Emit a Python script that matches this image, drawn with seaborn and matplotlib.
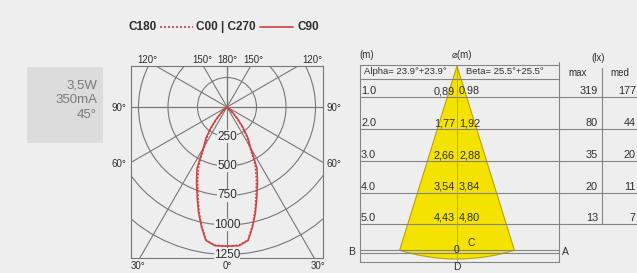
import numpy as np
import pandas as pd
import matplotlib
matplotlib.use("Agg")
import matplotlib.pyplot as plt
import seaborn as sns
from matplotlib.patches import Circle, Wedge, Rectangle

# ---------------- data ----------------
gamma_deg = [0, 5, 9, 12, 15, 18, 22, 26, 28, 30, 34, 38, 42, 46, 50, 60]
c0_c180_cd = [1180, 1175, 1140, 1030, 915, 795, 665, 545, 450, 375, 295, 200, 115, 50, 15, 0]
c90_c270_cd = [1180, 1180, 1145, 1040, 930, 815, 690, 580, 480, 400, 320, 220, 130, 60, 20, 0]
ring_values = [250, 500, 750, 1000, 1250]
spoke_angles = [30, 60, 90, 120, 150, 180]

lamp_info = ["3,5W", "350mA", "45°"]
legend_parts = ["C180", "C00 | C270", "C90"]

distances_m = ["1.0", "2.0", "3.0", "4.0", "5.0"]
diam_alpha = ["0,89", "1,77", "2,66", "3,54", "4,43"]
diam_beta = ["0.98", "1,92", "2,88", "3,84", "4,80"]
lux_max = [319, 80, 35, 20, 13]
lux_med = [177, 44, 20, 11, 7]
alpha_text = "Alpha= 23.9°+23.9°"
beta_text = "Beta= 25.5°+25.5°"

# ---------------- style ----------------
sns.set_theme(style="white")
plt.rcParams["font.family"] = ["Liberation Sans Narrow", "Liberation Sans", "DejaVu Sans"]
BG = "#eeeeee"
TXT = "#2e2e2e"
GRID = "#777777"
RED = "#d04040"

fig = plt.figure(figsize=(6.37, 2.73), dpi=100)
fig.patch.set_facecolor(BG)

# background axes in pixel coordinates
bg = fig.add_axes([0, 0, 1, 1])
bg.set_xlim(0, 637)
bg.set_ylim(273, 0)
bg.axis("off")

# lamp info box
bg.add_patch(Rectangle((27, 67), 76, 76, facecolor="#dcdcdc", edgecolor="none", zorder=1))
for i, t in enumerate(lamp_info):
    bg.text(97, 85 + i * 15, t, ha="right", va="center", fontsize=9.5, color="#7a7a7a", zorder=2)

# legend
bg.text(157, 27, legend_parts[0], ha="right", va="center", fontsize=8.5, color=TXT, weight="bold")
bg.plot([160, 193], [27, 27], color=RED, lw=1.2, ls=(0, (1.2, 1.2)))
bg.text(226, 27, legend_parts[1], ha="center", va="center", fontsize=8.5, color=TXT, weight="bold")
bg.plot([260, 293], [27, 27], color=RED, lw=1.2)
bg.text(297, 27, legend_parts[2], ha="left", va="center", fontsize=8.5, color=TXT, weight="bold")

# ---------------- polar diagram ----------------
cx, cy = 227, 107           # pixel center
px_per_cd = 29.5 / 250
L, R, T, B = 131, 323, 66, 258
pax = fig.add_axes([L / 637, (273 - B) / 273, (R - L) / 637, (B - T) / 273])
pax.set_facecolor(BG)
pax.set_xlim((L - cx) / px_per_cd, (R - cx) / px_per_cd)
pax.set_ylim(-(B - cy) / px_per_cd, (cy - T) / px_per_cd)
pax.set_xticks([])
pax.set_yticks([])
for s in pax.spines.values():
    s.set_color(GRID)
    s.set_linewidth(0.8)

for r in ring_values:
    pax.add_patch(Circle((0, 0), r, fill=False, edgecolor=GRID, lw=0.8, zorder=1))
for a in spoke_angles:
    rad = np.deg2rad(a)
    for sgn in (-1, 1):
        pax.plot([0, sgn * 3000 * np.sin(rad)], [0, -3000 * np.cos(rad)], color=GRID, lw=0.8, zorder=1)
pax.plot([0, 0], [-3000, 3000], color=GRID, lw=0.8, zorder=1)
pax.plot([-3000, 3000], [0, 0], color=GRID, lw=0.8, zorder=1)

for r in ring_values:
    pax.text(0, -r, str(r), ha="center", va="center", fontsize=8.5, color=TXT, zorder=3,
             bbox=dict(facecolor=BG, edgecolor="none", pad=0.2))

rows = []
g = np.deg2rad(np.array(gamma_deg, dtype=float))
for name, vals in (("C0-C180", c0_c180_cd), ("C90-C270", c90_c270_cd)):
    v = np.array(vals, dtype=float)
    xs = np.concatenate([-(v * np.sin(g))[::-1], (v * np.sin(g))[1:]])
    ys = np.concatenate([-(v * np.cos(g))[::-1], -(v * np.cos(g))[1:]])
    for i, (x, y) in enumerate(zip(xs, ys)):
        rows.append({"plane": name, "order": i, "x": x, "y": y})
curves = pd.DataFrame(rows)
sns.lineplot(data=curves, x="x", y="y", hue="plane", style="plane", sort=False, estimator=None,
             palette={"C0-C180": RED, "C90-C270": RED},
             dashes={"C0-C180": (1.3, 1.0), "C90-C270": ""},
             linewidth=1.1, legend=False, ax=pax, zorder=4)
pax.set_xlabel("")
pax.set_ylabel("")

# angle labels
ang_labels = [(147, 60, "120°"), (202, 60, "150°"), (227, 60, "180°"), (253, 60, "150°"),
              (312, 60, "120°"), (119, 108, "90°"), (334, 108, "90°"), (119, 164, "60°"),
              (334, 164, "60°"), (138, 266, "30°"), (227, 266, "0°"), (318, 266, "30°")]
for x, y, t in ang_labels:
    bg.text(x, y, t, ha="center", va="center", fontsize=7, color=TXT)

# ---------------- beam table ----------------
LC = "#858585"
apex_x, apex_y = 457, 66
bg.add_patch(Wedge((apex_x, apex_y), 193, 90 - 17.3, 90 + 17.3, facecolor="#f4e200",
                   edgecolor="#b9a400", lw=0.8, zorder=1))
row_lines = [97, 129, 161, 192.5, 224]
for y in [65, 79, 250, 253, 262]:
    bg.plot([360, 559], [y, y], color=LC, lw=0.8, zorder=2)
for y in row_lines:
    bg.plot([360, 637], [y, y], color=LC, lw=0.8, zorder=2)
bg.plot([360, 360], [65, 262], color=LC, lw=0.8, zorder=2)
bg.plot([559, 559], [62, 262], color=LC, lw=0.8, zorder=2)
bg.plot([602, 602], [68, 224], color=LC, lw=0.8, zorder=2)
bg.plot([457, 457], [66, 264], color="#9a9a7a", lw=0.6, zorder=2)

fs = 7.8
bg.text(367, 55, "(m)", ha="center", va="center", fontsize=7, color=TXT)
bg.text(462, 55, "⌀(m)", ha="center", va="center", fontsize=7, color=TXT,
        family=["Liberation Sans Narrow", "Liberation Sans", "DejaVu Sans"])
bg.text(598, 58, "(lx)", ha="center", va="center", fontsize=7, color=TXT)
bg.text(578, 73, "max", ha="center", va="center", fontsize=7, color=TXT)
bg.text(620, 73, "med", ha="center", va="center", fontsize=7, color=TXT)
bg.text(364, 72, alpha_text, ha="left", va="center", fontsize=6.8, color=TXT, zorder=3)
bg.text(466, 72, beta_text, ha="left", va="center", fontsize=6.8, color=TXT, zorder=3)

for i in range(len(distances_m)):
    y = row_lines[i] - 6
    bg.text(361, y, distances_m[i], ha="left", va="center", fontsize=fs, color=TXT, zorder=3)
    bg.text(455, y, diam_alpha[i], ha="right", va="center", fontsize=fs, color=TXT, zorder=3)
    bg.text(459, y, diam_beta[i], ha="left", va="center", fontsize=fs, color=TXT, zorder=3)
    bg.text(598, y, str(lux_max[i]), ha="right", va="center", fontsize=fs, color=TXT, zorder=3)
    bg.text(636, y, str(lux_med[i]), ha="right", va="center", fontsize=fs, color=TXT, zorder=3)

for x, y, t in [(352, 252, "B"), (565, 252, "A"), (457, 267, "D"), (471, 243, "C"), (457, 250, "0")]:
    bg.text(x, y, t, ha="center", va="center", fontsize=7.5, color=TXT, zorder=3)

fig.savefig("out.png", dpi=100, facecolor=BG)
